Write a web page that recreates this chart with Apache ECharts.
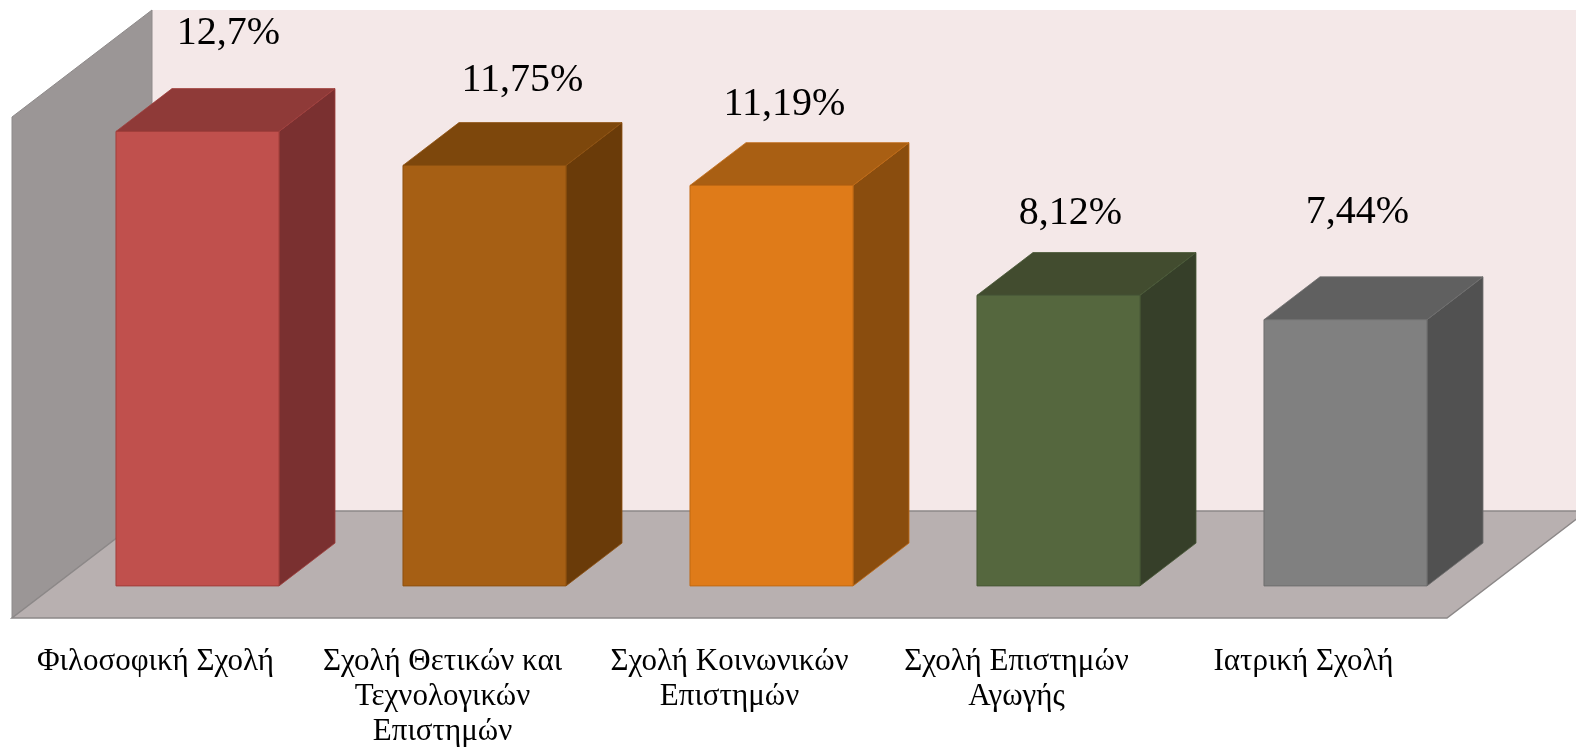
<!DOCTYPE html>
<html>
<head>
<meta charset="utf-8">
<script src="https://cdn.jsdelivr.net/npm/echarts@6/dist/echarts.min.js"></script>
<style>
html,body{margin:0;padding:0;background:#fff;}
#chart{width:1576px;height:749px;}
</style>
</head>
<body>
<div id="chart"></div>
<script>
// ---- data ----
var categories = [
  'Φιλοσοφική Σχολή',
  'Σχολή Θετικών και\nΤεχνολογικών\nΕπιστημών',
  'Σχολή Κοινωνικών\nΕπιστημών',
  'Σχολή Επιστημών\nΑγωγής',
  'Ιατρική Σχολή'
];
var values = [12.7, 11.75, 11.19, 8.12, 7.44];
var yMax = 14;

// ---- styles ----
var faceFront = ['#C0504D', '#A65F14', '#DF7B19', '#55673E', '#808080'];
var faceTop   = ['#8F3A38', '#7D470C', '#A95F13', '#424C2F', '#606060'];
var faceSide  = ['#7A3030', '#6A3B09', '#8A4D0E', '#363F29', '#515151'];
var faceEdge  = ['#A03E3B', '#8E510F', '#C06A14', '#485836', '#6E6E6E'];
// label nudges relative to the front-top centre of each bar (x, baseline y)
var labelDX = [31, 38, 13, 12, 12];
var labelDY = [-86, -73, -69, -70, -95];

var DEPTH_X = 140, DEPTH_Y = -107;   // full floor depth projection
var BAR_FRONT = 0.3, BAR_DEPTH = 0.4, BAR_W = 0.568;
var SERIF = '"Liberation Serif","Times New Roman",serif';

var chart = echarts.init(document.getElementById('chart'), null, {renderer: 'canvas'});

function renderFrame(params, api) {
  var cs = params.coordSys;
  var x0 = cs.x, x1 = cs.x + cs.width;
  var yb = api.coord([0, 0])[1];
  var yt = api.coord([0, yMax])[1];
  var dx = DEPTH_X, dy = DEPTH_Y;
  return {
    type: 'group',
    children: [
      { type: 'polygon', shape: { points: [[x0 + dx, yt + dy], [x1 + dx, yt + dy], [x1 + dx, yb + dy], [x0 + dx, yb + dy]] },
        style: { fill: '#F4E8E8', stroke: null } },
      { type: 'polygon', shape: { points: [[x0, yb], [x0, yt], [x0 + dx, yt + dy], [x0 + dx, yb + dy]] },
        style: { fill: '#9B9696', stroke: '#8E8A8A', lineWidth: 1 } },
      { type: 'polygon', shape: { points: [[x0, yb], [x1, yb], [x1 + dx, yb + dy], [x0 + dx, yb + dy]] },
        style: { fill: '#B8B0B0', stroke: '#8C8888', lineWidth: 1.5 } }
    ]
  };
}

function renderBar(params, api) {
  var i = api.value(0), v = api.value(1);
  var base = api.coord([i, 0]);
  var top = api.coord([i, v]);
  var band = api.size([1, 0])[0];
  var w = band * BAR_W;
  var ox = DEPTH_X * BAR_FRONT, oy = DEPTH_Y * BAR_FRONT;
  var bx = DEPTH_X * BAR_DEPTH, by = DEPTH_Y * BAR_DEPTH;
  var xl = base[0] - w / 2 + ox, xr = base[0] + w / 2 + ox;
  var yb = base[1] + oy, yt = top[1] + oy;
  var k = params.dataIndex;
  var lbl = String(values[k]).replace('.', ',') + '%';
  return {
    type: 'group',
    children: [
      { type: 'polygon', shape: { points: [[xr, yt], [xr + bx, yt + by], [xr + bx, yb + by], [xr, yb]] },
        style: { fill: faceSide[k], stroke: faceEdge[k], lineWidth: 0.8 } },
      { type: 'polygon', shape: { points: [[xl, yt], [xr, yt], [xr + bx, yt + by], [xl + bx, yt + by]] },
        style: { fill: faceTop[k], stroke: faceEdge[k], lineWidth: 0.8 } },
      { type: 'rect', shape: { x: xl, y: yt, width: xr - xl, height: yb - yt },
        style: { fill: faceFront[k], stroke: faceEdge[k], lineWidth: 1 } },
      { type: 'text', x: (xl + xr) / 2 + labelDX[k], y: yt + labelDY[k] - 12,
        style: { text: lbl, font: '40px ' + SERIF, fill: '#000', align: 'center', verticalAlign: 'middle' } }
    ]
  };
}

var option = {
  animation: false,
  backgroundColor: '#ffffff',
  grid: { left: 12, right: 129, top: 117, bottom: 128, containLabel: false },
  xAxis: {
    type: 'category',
    data: categories,
    boundaryGap: true,
    axisLine: { show: false },
    axisTick: { show: false },
    splitLine: { show: false },
    axisLabel: {
      interval: 0,
      margin: 26,
      fontFamily: SERIF,
      fontSize: 31,
      lineHeight: 35,
      color: '#000',
      verticalAlign: 'top'
    }
  },
  yAxis: {
    type: 'value', min: 0, max: yMax, show: false,
    splitLine: { show: false }
  },
  series: [
    { type: 'custom', renderItem: renderFrame, data: [[0, 0]], silent: true, z: 1 },
    { type: 'custom', renderItem: renderBar, z: 2,
      data: values.map(function (v, i) { return [i, v]; }) }
  ]
};
chart.setOption(option);
</script>
</body>
</html>
